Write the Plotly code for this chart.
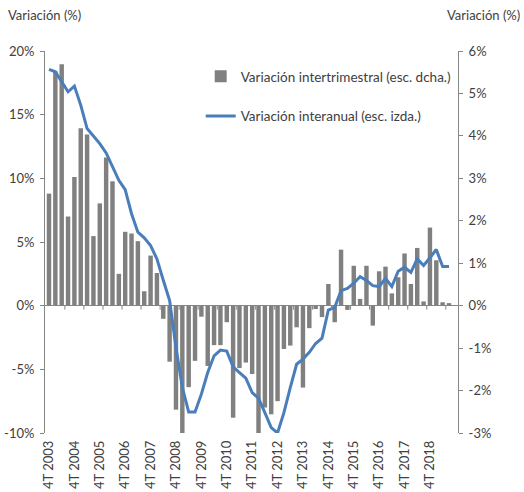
import plotly.graph_objects as go

# 64 quarters from 4T 2003 to 3T 2019 (index 0..63)
tick_labels = ["4T 2003", "4T 2004", "4T 2005", "4T 2006", "4T 2007", "4T 2008",
               "4T 2009", "4T 2010", "4T 2011", "4T 2012", "4T 2013", "4T 2014",
               "4T 2015", "4T 2016", "4T 2017", "4T 2018"]

left_ticks = [-10, -5, 0, 5, 10, 15, 20]
left_tick_text = ["-10%", "-5%", "0%", "5%", "10%", "15%", "20%"]
right_ticks = [-3, -2, -1, 0, 1, 2, 3, 4, 5, 6]
right_tick_text = ["-3%", "-2%", "-1%", "0%", "1%", "2%", "3%", "4%", "5%", "6%"]

intertrimestral = [2.64, 5.52, 5.69, 2.10, 3.03, 4.18, 4.03, 1.64, 2.41, 3.49,
                   2.93, 0.75, 1.74, 1.70, 1.52, 0.34, 1.18, 0.77, -0.31, -1.32,
                   -2.45, -3.0, -1.92, -1.30, -0.26, -1.42, -0.93, -0.93, -0.39, -2.64,
                   -1.47, -1.34, -1.61, -3.0, -2.4, -2.56, -2.25, -1.02, -0.94, -0.51,
                   -1.93, -0.53, -0.08, -0.27, 0.51, -0.39, 1.32, -0.1, 0.94, 0.16,
                   0.94, -0.47, 0.81, 0.92, 0.29, 0.67, 1.23, 0.51, 1.36, 0.1,
                   1.84, 1.07, 0.08, 0.06]

interanual = [18.56, 18.37, 17.58, 16.8, 17.24, 15.75, 13.91, 13.31, 12.73, 11.99,
              10.89, 9.84, 9.11, 7.22, 5.77, 5.33, 4.72, 3.67, 2.0, 0.4,
              -3.28, -6.43, -8.35, -8.35, -6.95, -5.25, -3.94, -3.49, -3.57, -4.8,
              -5.25, -5.7, -6.82, -7.27, -8.4, -9.58, -10.0, -8.4, -6.43, -4.6,
              -4.2, -3.67, -2.97, -2.55, -0.34, -0.13, 1.18, 1.36, 1.76, 2.28,
              1.97, 1.57, 1.5, 2.15, 1.5, 2.7, 3.02, 2.62, 3.67, 3.15,
              3.76, 4.41, 3.07, 3.07]

x_idx = list(range(len(interanual)))
tick_pos = list(range(0, len(interanual), 4))[:len(tick_labels)]

FONT = "Lato"
TXT = "#404040"
AX = "#868686"

W, H = 524, 492
ML, MR, MT, MB = 45, 66, 51, 59
PW, PH = W - ML - MR, H - MT - MB

fig = go.Figure()
fig.add_trace(go.Bar(
    x=x_idx, y=intertrimestral, name="Variación intertrimestral (esc. dcha.)",
    marker=dict(color="#808080", line=dict(width=0)), width=0.7,
    yaxis="y", legend="legend",
))
fig.add_trace(go.Scatter(
    x=x_idx, y=interanual, name="Variación interanual (esc. izda.)",
    mode="lines", line=dict(color="#4a7ebb", width=3),
    yaxis="y2", legend="legend2",
))

# small tick marks on the zero line every 3 quarters
for b in [k + 0.5 for k in range(2, len(interanual), 3)]:
    fig.add_shape(type="line", xref="x", yref="y", x0=b, x1=b,
                  ysizemode="pixel", yanchor=0, y0=0, y1=-4,
                  line=dict(color=AX, width=1))

fig.update_layout(
    width=W, height=H,
    margin=dict(l=ML, r=MR, t=MT, b=MB, autoexpand=False),
    paper_bgcolor="white", plot_bgcolor="white",
    font=dict(family=FONT, size=13, color=TXT),
    bargap=0.3,
    xaxis=dict(
        range=[-0.63, 64.42], tickmode="array", tickvals=tick_pos, ticktext=tick_labels,
        tickangle=-90, showgrid=False, zeroline=False, showline=False, ticks="",
        tickfont=dict(size=13, color=TXT), automargin=False, ticklabelstandoff=4,
    ),
    yaxis=dict(
        side="right", range=[-3, 6], tickmode="array", tickvals=right_ticks,
        ticktext=right_tick_text, showgrid=False,
        zeroline=True, zerolinecolor=AX, zerolinewidth=1,
        showline=True, linecolor=AX, linewidth=1, ticks="outside", ticklen=4,
        tickcolor=AX, tickfont=dict(size=13, color=TXT), ticklabelstandoff=3,
        automargin=False,
    ),
    yaxis2=dict(
        side="left", overlaying="y", range=[-10, 20], tickmode="array",
        tickvals=left_ticks, ticktext=left_tick_text,
        showgrid=False, zeroline=False, showline=True, linecolor=AX, linewidth=1,
        ticks="outside", ticklen=4, tickcolor=AX, tickfont=dict(size=13, color=TXT),
        ticklabelstandoff=3, automargin=False,
    ),
    legend=dict(x=0.377, y=0.933, xanchor="left", yanchor="middle",
                bgcolor="rgba(0,0,0,0)", font=dict(size=13.5, color=TXT)),
    legend2=dict(x=0.377, y=0.829, xanchor="left", yanchor="middle",
                 bgcolor="rgba(0,0,0,0)", font=dict(size=13.5, color=TXT)),
    showlegend=True,
    annotations=[
        dict(text="Variación (%)", xref="paper", yref="paper", x=(6 - ML) / PW, y=1 + (MT - 5) / PH,
             xanchor="left", yanchor="top", showarrow=False,
             font=dict(size=13, color=TXT)),
        dict(text="Variación (%)", xref="paper", yref="paper", x=(522 - ML) / PW, y=1 + (MT - 5) / PH,
             xanchor="right", yanchor="top", showarrow=False,
             font=dict(size=13, color=TXT)),
    ],
)

fig.write_html("out.html", config={"displayModeBar": False},
               post_script="document.body.style.margin='0';")
